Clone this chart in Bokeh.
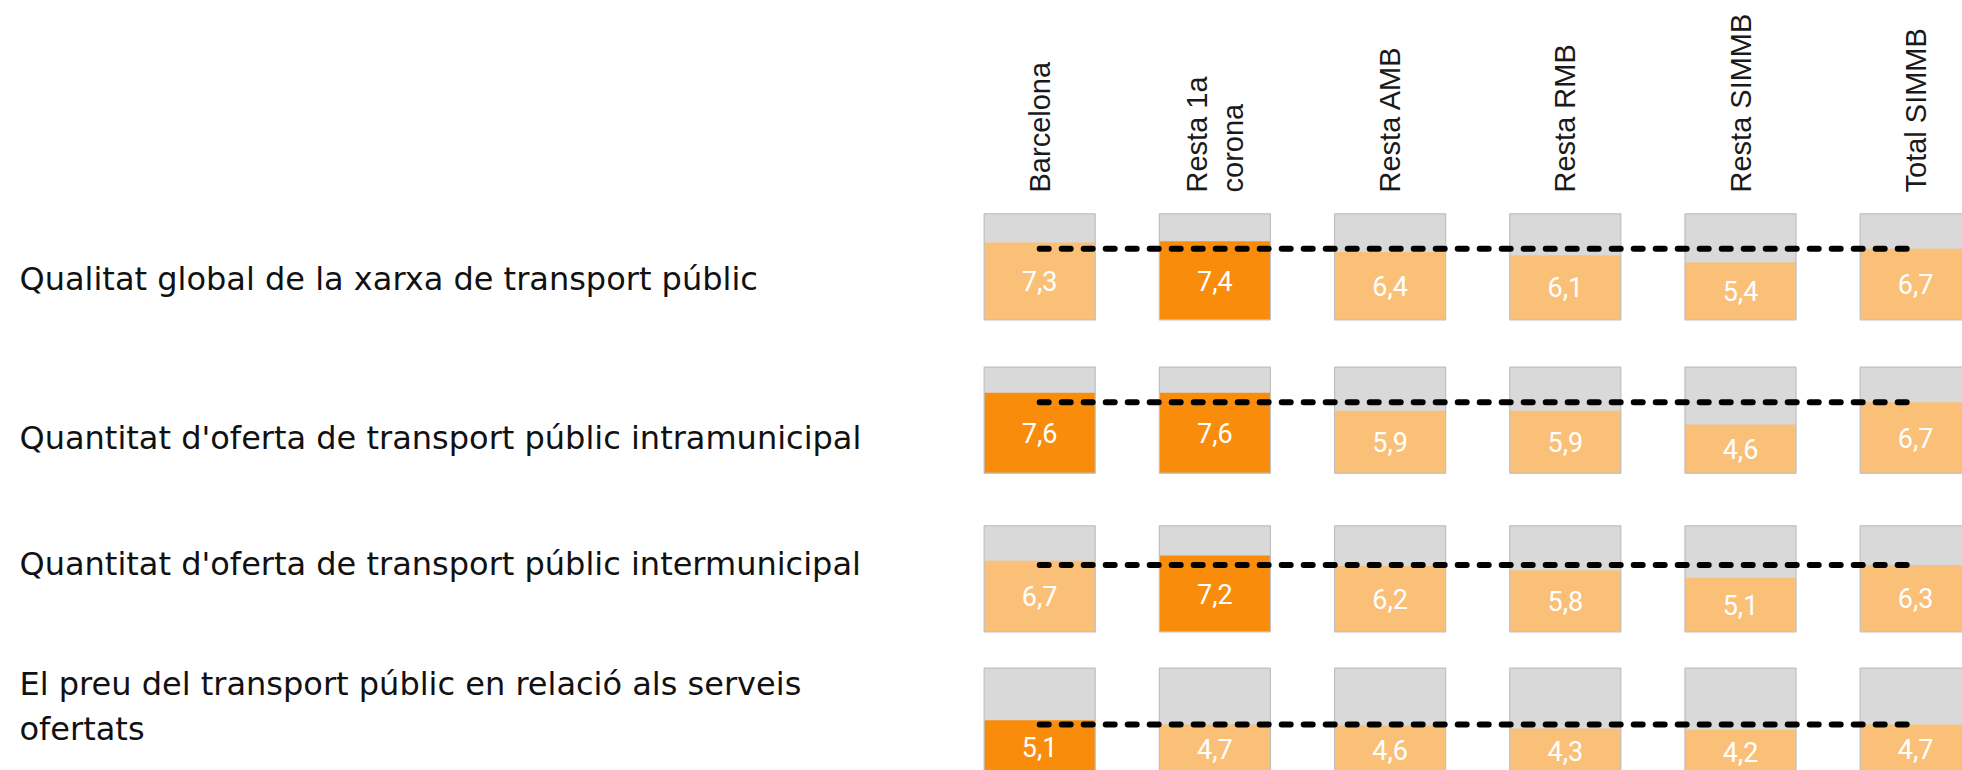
import math
from bokeh.plotting import figure
from bokeh.models import Range1d, ColumnDataSource
from bokeh.core.properties import value
from bokeh.embed import file_html
from bokeh.resources import INLINE

# ---------------- data ----------------
territories = ["Barcelona", "Resta 1a\ncorona", "Resta AMB", "Resta RMB", "Resta SIMMB", "Total SIMMB"]
aspects = [
    "Qualitat global de la xarxa de transport públic",
    "Quantitat d'oferta de transport públic intramunicipal",
    "Quantitat d'oferta de transport públic intermunicipal",
    "El preu del transport públic en relació als serveis\nofertats",
]
qualitat = [7.3, 7.4, 6.4, 6.1, 5.4, 6.7]
intramunicipal = [7.6, 7.6, 5.9, 5.9, 4.6, 6.7]
intermunicipal = [6.7, 7.2, 6.2, 5.8, 5.1, 6.3]
preu = [5.1, 4.7, 4.6, 4.3, 4.2, 4.7]
series = [qualitat, intramunicipal, intermunicipal, preu]
# territories significantly above the total (dark orange)
highlight_qualitat = [0, 1, 0, 0, 0, 0]
highlight_intra = [1, 1, 0, 0, 0, 0]
highlight_inter = [0, 1, 0, 0, 0, 0]
highlight_preu = [1, 0, 0, 0, 0, 0]
highlights = [highlight_qualitat, highlight_intra, highlight_inter, highlight_preu]
scale_max = 10

# ---------------- layout (page pixels) ----------------
W, H = 1962, 770
PX_PER_PT = 10.6          # box height 106 px for 10 points
COL0_PX = 1039.2          # centre of first column
COL_STEP_PX = 175.2
BOX_HALF = 0.317          # half box width in column units
row_bottom_px = [319.3, 472.7, 631.3, 773.7]
label_mid_px = [278, 437, 563, 706]   # vertical centre of each label block
header_end_px = 192
label_left_px = 19

def dy(px):
    return (H - px) / PX_PER_PT

def dx(px):
    return (px - COL0_PX) / COL_STEP_PX

p = figure(width=W, height=H, output_backend="svg", toolbar_location=None,
           x_range=Range1d(dx(0), dx(W)),
           y_range=Range1d(dy(H), dy(0)),
           min_border=0, outline_line_color=None, background_fill_color="white")
p.xaxis.visible = False
p.yaxis.visible = False
p.grid.visible = False

DARK = "#F98D0B"
LIGHT = "#FBC078"
GREY = "#D9D9D9"
BORDER = "#BFBFBF"

n = len(territories)
xs = list(range(n))

for r, vals in enumerate(series):
    base = dy(row_bottom_px[r])
    left = [i - BOX_HALF for i in xs]
    right = [i + BOX_HALF for i in xs]
    src_bg = ColumnDataSource(dict(left=left, right=right,
                                   bottom=[base] * n, top=[base + scale_max] * n))
    p.quad(left="left", right="right", bottom="bottom", top="top", source=src_bg,
           fill_color=GREY, line_color=None)
    colors = [DARK if h else LIGHT for h in highlights[r]]
    src_v = ColumnDataSource(dict(left=left, right=right, bottom=[base] * n,
                                  top=[base + v for v in vals], color=colors))
    p.quad(left="left", right="right", bottom="bottom", top="top", source=src_v,
           fill_color="color", line_color=None)
    p.quad(left="left", right="right", bottom="bottom", top="top", source=src_bg,
           fill_alpha=0, line_color=BORDER, line_width=1.2)
    # value labels
    src_t = ColumnDataSource(dict(x=xs, y=[base + v / 2 for v in vals],
                                  t=[f"{v:.1f}".replace(".", ",") for v in vals]))
    p.text(x="x", y="y", text="t", source=src_t, text_color="white",
           text_font=value("Roboto"), text_font_size="27px",
           text_align="center", text_baseline="middle")
    # reference line at total
    total = vals[-1]
    p.segment(x0=[xs[0]], y0=[base + total], x1=[xs[-1]], y1=[base + total],
              line_color="black", line_width=6, line_dash="9 13", line_cap="round")

# column headers
src_h = ColumnDataSource(dict(x=xs, y=[dy(header_end_px)] * n, t=territories))
p.text(x="x", y="y", text="t", source=src_h, angle=math.pi / 2,
       text_align="left", text_baseline="middle", text_color="#1a1a1a",
       text_font=value("Liberation Sans"), text_font_size="29px",
       text_line_height=1.13)

# row labels
src_l = ColumnDataSource(dict(x=[dx(label_left_px)] * len(aspects),
                              y=[dy(b) for b in label_mid_px], t=aspects))
p.text(x="x", y="y", text="t", source=src_l, text_align="left",
       text_baseline="middle", text_color="#111111",
       text_font=value("DejaVu Sans"), text_font_size="32px", text_line_height=1.21)

open("out.html", "w").write(file_html(p, INLINE))
